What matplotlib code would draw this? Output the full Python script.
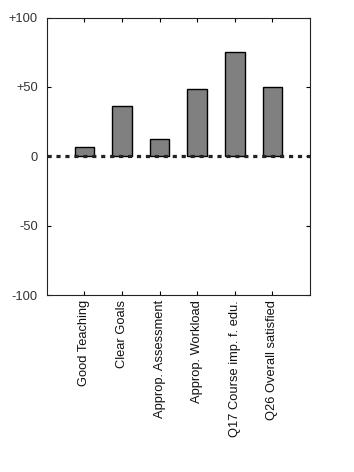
import matplotlib
matplotlib.use("Agg")
import matplotlib.pyplot as plt
import numpy as np

CATEGORIES = [
    "Good Teaching",
    "Clear Goals",
    "Approp. Assessment",
    "Approp. Workload",
    "Q17 Course imp. f. edu.",
    "Q26 Overall satisfied",
]
VALUES = [7, 36, 12.5, 48.5, 75, 50]
Y_TICKS = [-100, -50, 0, 50, 100]
Y_TICK_LABELS = ["-100", "-50", "0", "+50", "+100"]

plt.rcParams["font.family"] = ["Liberation Sans", "DejaVu Sans"]

fig = plt.figure(figsize=(3.54, 4.72), dpi=100)
ax = fig.add_axes([46.7 / 354, 1 - 295 / 472, (310 - 46.7) / 354, (295 - 17.5) / 472])

x = np.arange(1, len(CATEGORIES) + 1)
ax.bar(x, VALUES, width=0.52, color="#808080", edgecolor="black", linewidth=1.0, zorder=2)
# thick dotted zero line drawn over the bar bottoms
ax.axhline(0, color="#222222", linestyle=(0, (1.3, 1.5)), linewidth=2.3, zorder=3)

ax.set_xlim(0, 7)
ax.set_ylim(-100, 100)
ax.set_xticks(x)
ax.set_xticklabels(CATEGORIES, rotation=90, fontsize=9.3, color="#111111")
ax.set_yticks(Y_TICKS)
ax.set_yticklabels(Y_TICK_LABELS, fontsize=9.3, color="#333333")
ax.tick_params(direction="in", length=3, width=0.8, top=True, right=True)
ax.tick_params(axis="x", pad=3.5)
ax.tick_params(axis="y", pad=6.5)
for spine in ax.spines.values():
    spine.set_linewidth(0.8)
    spine.set_color("#222222")

fig.savefig("out.png", dpi=100)
